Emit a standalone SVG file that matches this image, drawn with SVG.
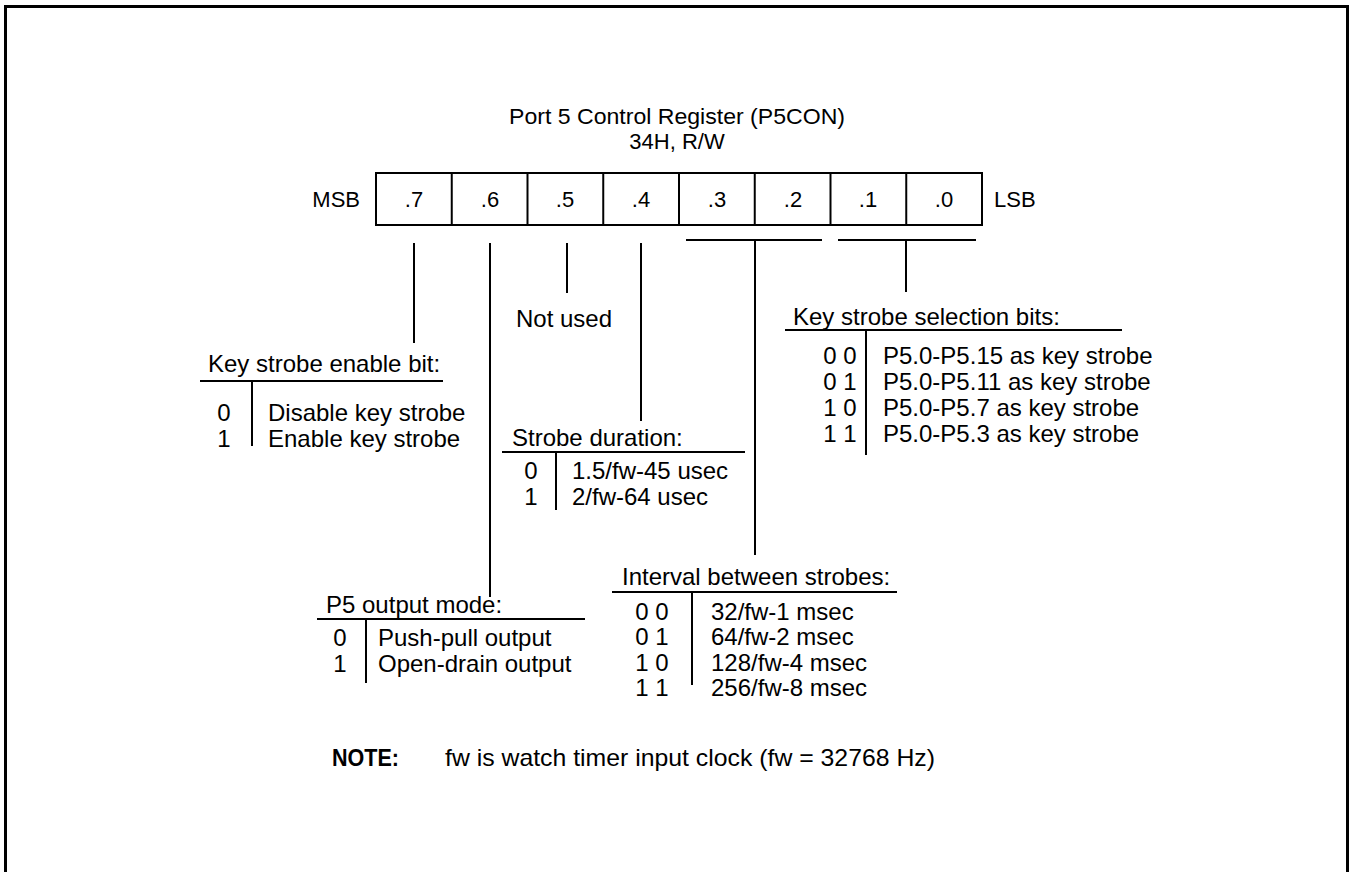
<svg xmlns="http://www.w3.org/2000/svg" width="1354" height="872" viewBox="0 0 1354 872">
<style>
text{font-family:"Liberation Sans",Arial,sans-serif;font-size:24px;fill:#000}
.t{font-size:22px}
.c{text-anchor:middle}
.b{font-weight:bold}
line,rect{stroke:#000;stroke-width:2;fill:none}
.frame{stroke-width:3}
</style>
<rect class="frame" x="5.5" y="6.5" width="1342" height="900"/>
<g id="title">
<text class="t c" x="677" y="124" textLength="336" lengthAdjust="spacingAndGlyphs">Port 5 Control Register (P5CON)</text>
<text class="t c" x="677" y="149">34H, R/W</text>
</g>
<g id="register">
<rect x="376" y="173" width="606" height="52"/>
<line x1="451.75" y1="173" x2="451.75" y2="225"/>
<line x1="527.5" y1="173" x2="527.5" y2="225"/>
<line x1="603.25" y1="173" x2="603.25" y2="225"/>
<line x1="679" y1="173" x2="679" y2="225"/>
<line x1="754.75" y1="173" x2="754.75" y2="225"/>
<line x1="830.5" y1="173" x2="830.5" y2="225"/>
<line x1="906.25" y1="173" x2="906.25" y2="225"/>
<text class="t" x="360" y="207" text-anchor="end">MSB</text>
<text class="t" x="994" y="207">LSB</text>
<text class="t c" x="414" y="207">.7</text>
<text class="t c" x="490" y="207">.6</text>
<text class="t c" x="565" y="207">.5</text>
<text class="t c" x="641" y="207">.4</text>
<text class="t c" x="717" y="207">.3</text>
<text class="t c" x="793" y="207">.2</text>
<text class="t c" x="868" y="207">.1</text>
<text class="t c" x="944" y="207">.0</text>
</g>
<g id="connectors">
<line x1="414" y1="243" x2="414" y2="343"/>
<line x1="490" y1="243" x2="490" y2="597"/>
<line x1="567" y1="243" x2="567" y2="293"/>
<line x1="641" y1="243" x2="641" y2="421"/>
<line x1="686" y1="240" x2="822" y2="240"/>
<line x1="755" y1="240" x2="755" y2="555"/>
<line x1="838" y1="240" x2="976" y2="240"/>
<line x1="906" y1="240" x2="906" y2="292"/>
</g>
<g id="not-used">
<text x="516" y="327">Not used</text>
</g>
<g id="key-strobe-enable">
<text x="208" y="372">Key strobe enable bit:</text>
<line x1="200" y1="381" x2="443" y2="381"/>
<line x1="252" y1="381" x2="252" y2="446"/>
<text class="c" x="224" y="421">0</text>
<text x="268" y="421">Disable key strobe</text>
<text class="c" x="224" y="447">1</text>
<text x="268" y="447">Enable key strobe</text>
</g>
<g id="strobe-duration">
<text x="512" y="446">Strobe duration:</text>
<line x1="502" y1="452" x2="745" y2="452"/>
<line x1="556" y1="452" x2="556" y2="510"/>
<text class="c" x="531" y="479">0</text>
<text x="572" y="479">1.5/fw-45 usec</text>
<text class="c" x="531" y="505">1</text>
<text x="572" y="505">2/fw-64 usec</text>
</g>
<g id="key-strobe-selection">
<text x="793" y="325">Key strobe selection bits:</text>
<line x1="785" y1="330" x2="1122" y2="330"/>
<line x1="866" y1="330" x2="866" y2="455"/>
<text class="c" x="840" y="364">0 0</text>
<text x="883" y="364">P5.0-P5.15 as key strobe</text>
<text class="c" x="840" y="390">0 1</text>
<text x="883" y="390">P5.0-P5.11 as key strobe</text>
<text class="c" x="840" y="416">1 0</text>
<text x="883" y="416">P5.0-P5.7 as key strobe</text>
<text class="c" x="840" y="442">1 1</text>
<text x="883" y="442">P5.0-P5.3 as key strobe</text>
</g>
<g id="interval">
<text x="622" y="585">Interval between strobes:</text>
<line x1="612" y1="592" x2="897" y2="592"/>
<line x1="692" y1="592" x2="692" y2="685"/>
<text class="c" x="652" y="620">0 0</text>
<text x="711" y="620">32/fw-1 msec</text>
<text class="c" x="652" y="645">0 1</text>
<text x="711" y="645">64/fw-2 msec</text>
<text class="c" x="652" y="671">1 0</text>
<text x="711" y="671">128/fw-4 msec</text>
<text class="c" x="652" y="696">1 1</text>
<text x="711" y="696">256/fw-8 msec</text>
</g>
<g id="p5-output">
<text x="326" y="613">P5 output mode:</text>
<line x1="317" y1="619" x2="585" y2="619"/>
<line x1="366" y1="619" x2="366" y2="683"/>
<text class="c" x="340" y="646">0</text>
<text x="378" y="646">Push-pull output</text>
<text class="c" x="340" y="672">1</text>
<text x="378" y="672">Open-drain output</text>
</g>
<g id="note">
<text class="b" x="332" y="766" font-size="23" textLength="67" lengthAdjust="spacingAndGlyphs">NOTE:</text>
<text x="445" y="766" font-size="24" textLength="490" lengthAdjust="spacingAndGlyphs">fw is watch timer input clock (fw = 32768 Hz)</text>
</g>
</svg>
